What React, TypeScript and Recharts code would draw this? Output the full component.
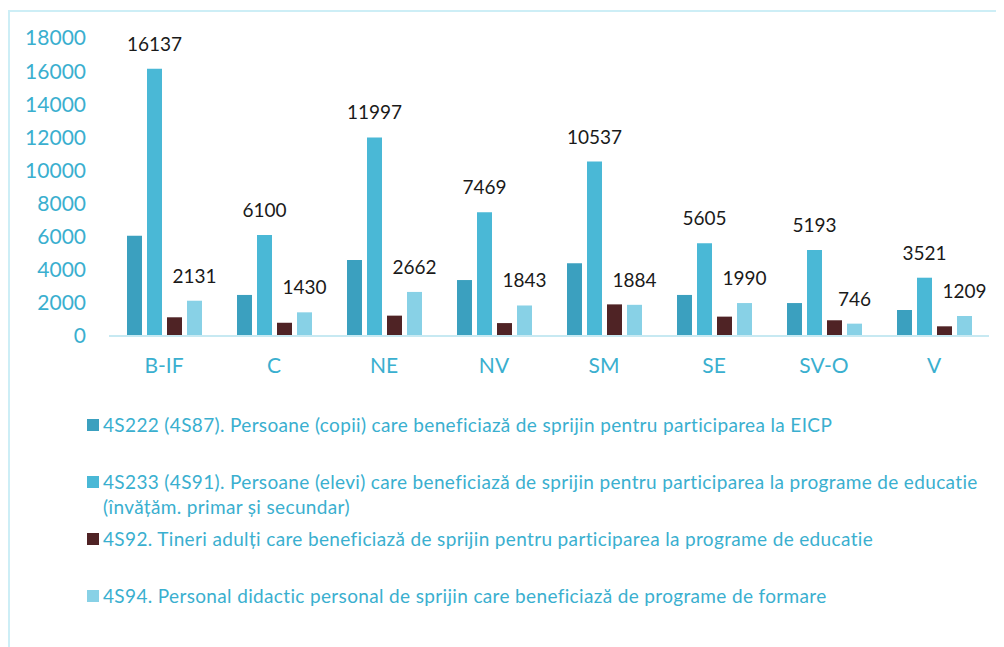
import { BarChart, Bar, XAxis, YAxis, LabelList, Legend } from 'recharts';

const regions = ['B-IF', 'C', 'NE', 'NV', 'SM', 'SE', 'SV-O', 'V'];
const copii = [6050, 2480, 4590, 3380, 4390, 2480, 1990, 1570];
const elevi = [16137, 6100, 11997, 7469, 10537, 5605, 5193, 3521];
const tineri = [1130, 800, 1230, 780, 1910, 1170, 950, 585];
const personal = [2131, 1430, 2662, 1843, 1884, 1990, 746, 1209];
const yTicks = [0, 2000, 4000, 6000, 8000, 10000, 12000, 14000, 16000, 18000];

const SERIES = [
  { key: 'copii', color: '#3ba0bf', label: '4S222 (4S87). Persoane (copii) care beneficiază de sprijin pentru participarea la EICP' },
  { key: 'elevi', color: '#4ab8d6', label: '4S233 (4S91). Persoane (elevi) care beneficiază de sprijin pentru participarea la programe de educatie (învățăm. primar și secundar)' },
  { key: 'tineri', color: '#4f2325', label: '4S92. Tineri adulți care beneficiază de sprijin pentru participarea la programe de educatie' },
  { key: 'personal', color: '#88d1e6', label: '4S94. Personal didactic personal de sprijin care beneficiază de programe de formare' },
];

const data = regions.map((r, i) => ({
  region: r,
  copii: copii[i],
  elevi: elevi[i],
  tineri: tineri[i],
  personal: personal[i],
}));

const FONT = 'Lato, "Open Sans", sans-serif';
const TEAL = '#3aafcf';

function LegendBox() {
  return (
    <div style={{ position: 'absolute', left: 79, top: 404, fontFamily: FONT }}>
      {SERIES.map(s => (
        <div key={s.key} style={{ position: 'relative', height: 57 }}>
          <span
            style={{
              position: 'absolute', left: 0, top: 7, width: 12, height: 12, background: s.color,
            }}
          />
          <div
            style={{
              marginLeft: 16, width: 895, fontSize: 19, letterSpacing: 0.35,
              lineHeight: '25px', color: TEAL,
            }}
          >
            {s.label}
          </div>
        </div>
      ))}
    </div>
  );
}

export default function App() {
  return (
    <div style={{ position: 'relative', width: 996, height: 639, overflow: 'hidden', background: '#fff' }}>
      <div
        style={{
          position: 'absolute', left: 0, top: 2, width: 1100, height: 800,
          borderTop: '2px solid #cdeef6', borderLeft: '2px solid #cdeef6',
        }}
      />
      <BarChart
        width={996}
        height={388}
        data={data}
        margin={{ top: 30, right: 15, bottom: 0, left: 0 }}
        barSize={15}
        barGap={5}
        style={{ position: 'absolute', left: 0, top: 0 }}
      >
        <XAxis
          dataKey="region"
          height={60}
          tickSize={0}
          tickMargin={22}
          axisLine={{ stroke: '#c7e9f2', strokeWidth: 2 }}
          tick={{ fill: TEAL, fontSize: 21, fontFamily: FONT }}
        />
        <YAxis
          width={101}
          domain={[0, 18000]}
          ticks={yTicks}
          interval={0}
          axisLine={false}
          tickLine={false}
          tickSize={0}
          tickMargin={23}
          tick={{ fill: TEAL, fontSize: 21, fontFamily: FONT }}
        />
        {SERIES.map(s => (
          <Bar key={s.key} dataKey={s.key} fill={s.color} isAnimationActive={false}>
            {(s.key === 'elevi' || s.key === 'personal') && (
              <LabelList
                dataKey={s.key}
                position="top"
                offset={18}
                style={{ fill: '#1a1a1a', fontSize: 19, fontFamily: FONT }}
              />
            )}
          </Bar>
        ))}
        <Legend content={() => null} />
      </BarChart>
      <LegendBox />
    </div>
  );
}
